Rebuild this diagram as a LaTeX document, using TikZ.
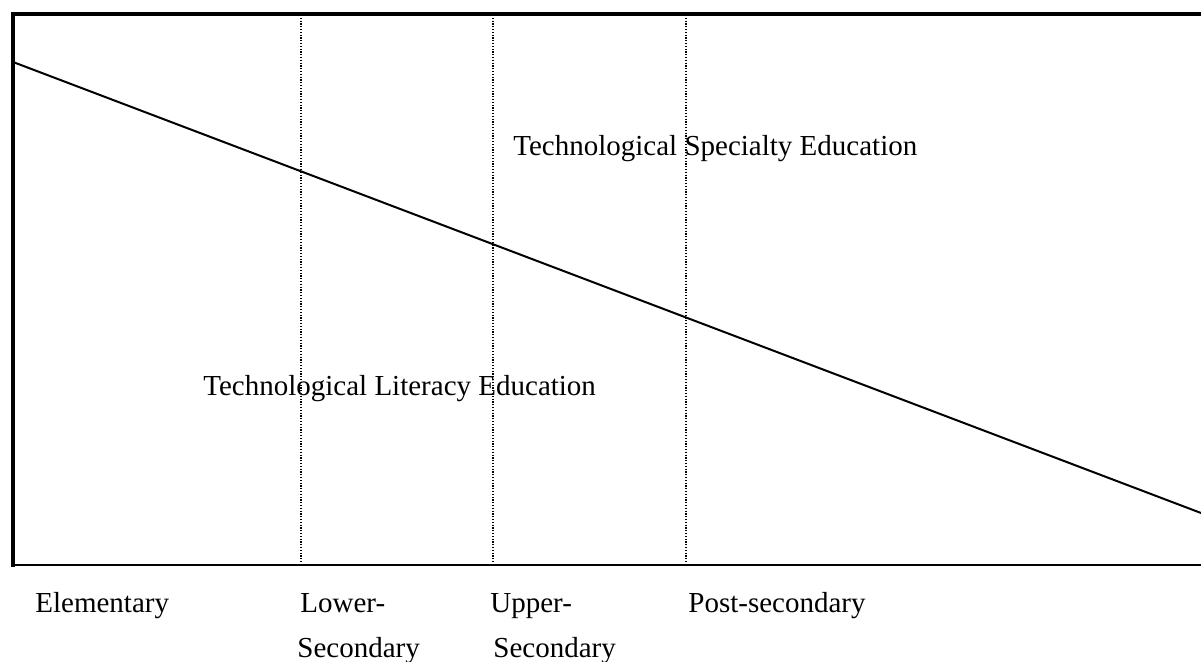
\documentclass[tikz,border=0pt]{standalone}
\usepackage{fontspec}
\setmainfont{Liberation Serif}
\usetikzlibrary{positioning}
\begin{document}
\begin{tikzpicture}[x=0.5pt,y=-0.5pt,
  txt/.style={anchor=base west,inner sep=0pt,font=\fontsize{14.5}{17}\selectfont},
  stage/.style={line width=0.6pt,dash pattern=on 0.6pt off 0.8pt}]
\useasboundingbox (0,0) rectangle (1201,662);

% frame
\coordinate (tl) at (13,14);
\coordinate (tr) at (1201,14);
\coordinate (bl) at (13,567);
\coordinate (br) at (1201,565);
\draw[line width=2pt](tl)--(tr);
\draw[line width=1.6pt]([yshift=1pt]tl)--(bl);
\draw[line width=1pt](13,565)--(br);

% stage borders
\foreach \x in {301,493,686}
  \draw[stage](\x,15)--(\x,564);

% dividing line
\coordinate (a) at (13,62);
\coordinate (b) at (1201,513);
\draw[line width=1pt](a)--(b);

\node[txt](spec) at (513,156){Technological Specialty Education};
\node[txt](lit) at (203,396){Technological Literacy Education};

\node[txt](elem) at (35,613){Elementary};
\node[txt](lower) at (300,613){Lower-};
\node[txt](upper) at (490,613){Upper-};
\node[txt](post) at (688,613){Post-secondary};
\node[txt](lsec) at (297,658){Secondary};
\node[txt](usec) at (493,658){Secondary};
\end{tikzpicture}
\end{document}
